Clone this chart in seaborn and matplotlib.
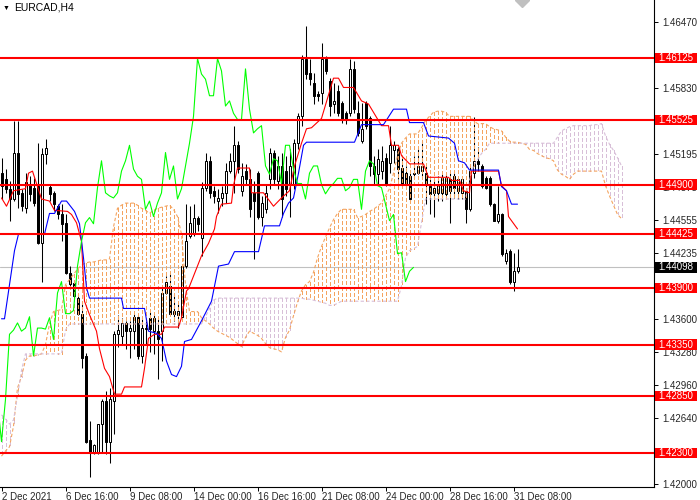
import numpy as np
import pandas as pd
import seaborn as sns
import matplotlib.pyplot as plt
import matplotlib.transforms as mtransforms
from matplotlib.patches import Rectangle

sns.set_style("white")
plt.rcParams['font.family'] = ['Liberation Sans', 'DejaVu Sans']

# EURCAD H4 candles, 2 Dec - 31 Dec 2021
opens = [1.4501, 1.4495, 1.4486, 1.4476, 1.4521, 1.4482, 1.4467, 1.4491, 1.4487, 1.4489,
         1.4433, 1.4520, 1.4488, 1.4482, 1.4469, 1.4461, 1.4453, 1.4404, 1.4395, 1.4380,
         1.4365, 1.4324, 1.4243, 1.4230, 1.4230, 1.4258, 1.4280, 1.4241, 1.4280, 1.4345,
         1.4343, 1.4356, 1.4348, 1.4348, 1.4362, 1.4324, 1.4350, 1.4361, 1.4348, 1.4348,
         1.4348, 1.4385, 1.4392, 1.4368, 1.4364, 1.4362, 1.4411, 1.4440, 1.4443, 1.4458,
         1.4438, 1.4487, 1.4513, 1.4484, 1.4474, 1.4477, 1.4482, 1.4503, 1.4513, 1.4528,
         1.4484, 1.4503, 1.4495, 1.4482, 1.4501, 1.4459, 1.4466, 1.4495, 1.4521, 1.4493,
         1.4508, 1.4503, 1.4491, 1.4491, 1.4530, 1.4556, 1.4612, 1.4598, 1.4588, 1.4578,
         1.4579, 1.4612, 1.4590, 1.4568, 1.4581, 1.4569, 1.4559, 1.4559, 1.4602, 1.4559,
         1.4532, 1.4569, 1.4554, 1.4508, 1.4500, 1.4503, 1.4516, 1.4511, 1.4523, 1.4524,
         1.4506, 1.4501, 1.4498, 1.4500, 1.4501, 1.4503, 1.4501, 1.4489, 1.4482, 1.4482,
         1.4482, 1.4481, 1.4495, 1.4498, 1.4484, 1.4482, 1.4484, 1.4466, 1.4501, 1.4513,
         1.4508, 1.4496, 1.4496, 1.4471, 1.4455, 1.4461, 1.4416, 1.4426, 1.4396, 1.4406]
highs = [1.4516, 1.4505, 1.4493, 1.4552, 1.4552, 1.4486, 1.4501, 1.4498, 1.4496, 1.4530,
         1.4525, 1.4534, 1.4491, 1.4484, 1.4471, 1.4471, 1.4461, 1.4411, 1.4398, 1.4384,
         1.4377, 1.4327, 1.4261, 1.4239, 1.4258, 1.4282, 1.4290, 1.4293, 1.4348, 1.4364,
         1.4361, 1.4358, 1.4358, 1.4365, 1.4364, 1.4362, 1.4361, 1.4367, 1.4365, 1.4361,
         1.4390, 1.4401, 1.4403, 1.4384, 1.4374, 1.4413, 1.4471, 1.4469, 1.4471, 1.4460,
         1.4492, 1.4521, 1.4518, 1.4489, 1.4486, 1.4489, 1.4511, 1.4521, 1.4547, 1.4532,
         1.4511, 1.4510, 1.4505, 1.4493, 1.4503, 1.4479, 1.4491, 1.4525, 1.4523, 1.4518,
         1.4521, 1.4518, 1.4524, 1.4534, 1.4559, 1.4615, 1.4644, 1.4612, 1.4598, 1.4581,
         1.4627, 1.4614, 1.4593, 1.4588, 1.4586, 1.4571, 1.4561, 1.4612, 1.4610, 1.4571,
         1.4569, 1.4571, 1.4556, 1.4518, 1.4524, 1.4527, 1.4521, 1.4547, 1.4532, 1.4526,
         1.4518, 1.4508, 1.4501, 1.4518, 1.4524, 1.4532, 1.4508, 1.4495, 1.4495, 1.4498,
         1.4500, 1.4500, 1.4501, 1.4503, 1.4496, 1.4498, 1.4487, 1.4510, 1.4555, 1.4526,
         1.4510, 1.4498, 1.4498, 1.4472, 1.4489, 1.4462, 1.4428, 1.4428, 1.4424, 1.4428]
lows = [1.4476, 1.4482, 1.4455, 1.4474, 1.4467, 1.4464, 1.4462, 1.4474, 1.4469, 1.4432,
        1.4396, 1.4510, 1.4474, 1.4464, 1.4457, 1.4435, 1.4403, 1.4390, 1.4379, 1.4364,
        1.4312, 1.4240, 1.4207, 1.4229, 1.4229, 1.4231, 1.4229, 1.4220, 1.4248, 1.4333,
        1.4336, 1.4331, 1.4322, 1.4331, 1.4321, 1.4317, 1.4335, 1.4328, 1.4326, 1.4302,
        1.4319, 1.4384, 1.4364, 1.4358, 1.4351, 1.4360, 1.4409, 1.4438, 1.4440, 1.4445,
        1.4421, 1.4484, 1.4477, 1.4472, 1.4462, 1.4469, 1.4472, 1.4501, 1.4482, 1.4501,
        1.4479, 1.4491, 1.4459, 1.4418, 1.4457, 1.4450, 1.4462, 1.4486, 1.4491, 1.4486,
        1.4459, 1.4479, 1.4459, 1.4486, 1.4524, 1.4547, 1.4592, 1.4586, 1.4568, 1.4571,
        1.4568, 1.4597, 1.4556, 1.4559, 1.4556, 1.4550, 1.4549, 1.4556, 1.4559, 1.4537,
        1.4530, 1.4544, 1.4498, 1.4490, 1.4490, 1.4495, 1.4489, 1.4501, 1.4511, 1.4495,
        1.4489, 1.4487, 1.4474, 1.4496, 1.4500, 1.4498, 1.4471, 1.4461, 1.4459, 1.4474,
        1.4474, 1.4476, 1.4453, 1.4477, 1.4476, 1.4476, 1.4453, 1.4464, 1.4496, 1.4503,
        1.4487, 1.4486, 1.4469, 1.4455, 1.4453, 1.4421, 1.4413, 1.4394, 1.4387, 1.4404]
closes = [1.4489, 1.4486, 1.4476, 1.4521, 1.4481, 1.4469, 1.4492, 1.4481, 1.4472, 1.4433,
          1.4520, 1.4525, 1.4481, 1.4471, 1.4461, 1.4452, 1.4404, 1.4394, 1.4382, 1.4365,
          1.4322, 1.4241, 1.4230, 1.4238, 1.4258, 1.4280, 1.4241, 1.4282, 1.4345, 1.4349,
          1.4356, 1.4348, 1.4351, 1.4362, 1.4324, 1.4351, 1.4351, 1.4350, 1.4361, 1.4340,
          1.4385, 1.4396, 1.4365, 1.4365, 1.4368, 1.4411, 1.4435, 1.4453, 1.4458, 1.4452,
          1.4487, 1.4513, 1.4482, 1.4479, 1.4477, 1.4482, 1.4503, 1.4513, 1.4528, 1.4505,
          1.4498, 1.4495, 1.4466, 1.4474, 1.4459, 1.4472, 1.4482, 1.4521, 1.4495, 1.4508,
          1.4476, 1.4486, 1.4508, 1.4530, 1.4556, 1.4612, 1.4597, 1.4592, 1.4576, 1.4576,
          1.4612, 1.4600, 1.4566, 1.4571, 1.4559, 1.4553, 1.4553, 1.4602, 1.4563, 1.4540,
          1.4544, 1.4547, 1.4508, 1.4500, 1.4515, 1.4513, 1.4491, 1.4528, 1.4528, 1.4505,
          1.4491, 1.4491, 1.4476, 1.4501, 1.4508, 1.4508, 1.4490, 1.4481, 1.4487, 1.4491,
          1.4496, 1.4496, 1.4484, 1.4487, 1.4495, 1.4495, 1.4466, 1.4503, 1.4513, 1.4510,
          1.4489, 1.4487, 1.4471, 1.4455, 1.4461, 1.4423, 1.4424, 1.4396, 1.4406, 1.44098]

# Ichimoku: tenkan-sen (red) and kijun-sen (blue) read as turning points
tenkan_bar = [0, 1.25, 3, 6, 6.75, 7.75, 8.75, 10, 12, 13.25, 16.5, 17.5, 18.75, 20, 20.75, 22,
              23.75, 24.5, 25.75, 27, 28.25, 30, 30.75, 35, 35.75, 36.75, 38.25, 40, 40.75, 44.25,
              45, 46.25, 46.75, 50, 51.75, 53.25, 53.75, 55, 57.5, 58, 59, 62, 62.5, 65.5, 68, 70,
              72, 73.25, 75, 76.25, 77.5, 80, 83, 84.25, 85.5, 88, 90, 91.75, 95, 96.75, 97.5,
              99.25, 100, 102, 105.5, 106.75, 111.75, 112.5, 114.5, 115.5, 117, 117.5, 124.25,
              125, 126.25, 126.75, 129]
tenkan_val = [1.4477, 1.4469, 1.4484, 1.4486, 1.4501, 1.4503, 1.4491, 1.4476, 1.4474, 1.4465,
              1.4464, 1.4461, 1.4453, 1.4435, 1.4377, 1.4364, 1.4348, 1.4331, 1.4312, 1.4304,
              1.4287, 1.4287, 1.4294, 1.4294, 1.4312, 1.4341, 1.4345, 1.4345, 1.4352, 1.4352,
              1.4361, 1.4387, 1.4389, 1.4421, 1.4433, 1.4447, 1.4459, 1.4471, 1.4472, 1.4489,
              1.4506, 1.4506, 1.4482, 1.4482, 1.4469, 1.4477, 1.4484, 1.4508, 1.4530, 1.4544,
              1.4545, 1.4554, 1.4593, 1.4593, 1.4584, 1.4584, 1.4571, 1.4568, 1.4547, 1.4547,
              1.4528, 1.4528, 1.4518, 1.4510, 1.4510, 1.4497, 1.4497, 1.4494, 1.4494, 1.4484,
              1.4482, 1.4503, 1.4503, 1.4489, 1.4484, 1.4459, 1.4447]
kijun_bar = [0, 0.75, 3.25, 4.25, 10.75, 12, 13.25, 15, 16.25, 18.25, 19.5, 20.5, 21.25, 22, 30,
             30.5, 35.75, 36.75, 38.75, 40, 41.25, 42.5, 43.75, 45, 45.75, 47.5, 50, 52.5, 54.25,
             56.75, 58.25, 64.25, 65.75, 69.5, 70.5, 71.75, 73, 74.25, 75.5, 76.25, 88.25, 90,
             95.5, 98, 101.25, 102, 105.5, 106.75, 111.75, 113.25, 114.25, 115.75, 117, 124.25,
             125, 126.25, 127.5, 129]
kijun_val = [1.4360, 1.4360, 1.4426, 1.4442, 1.4442, 1.4462, 1.4462, 1.4474, 1.4474, 1.4464,
             1.4452, 1.4419, 1.4390, 1.4380, 1.4380, 1.4370, 1.4370, 1.4348, 1.4346, 1.4341,
             1.4319, 1.4306, 1.4304, 1.4314, 1.4338, 1.4340, 1.4358, 1.4377, 1.4411, 1.4413,
             1.4425, 1.4425, 1.4450, 1.4450, 1.4462, 1.4472, 1.4477, 1.4501, 1.4528, 1.4531,
             1.4531, 1.4548, 1.4548, 1.4563, 1.4563, 1.4550, 1.4550, 1.4537, 1.4535, 1.4530,
             1.4513, 1.4511, 1.4504, 1.4504, 1.4488, 1.4484, 1.4471, 1.4471]

# Senkou span A / B, one value per bar (cloud runs 26 bars past the last candle)
span_a = [1.4227, 1.4232, 1.4236, 1.4256, 1.4293, 1.4304, 1.4320, 1.4324, 1.4324, 1.4325,
          1.4326, 1.4335, 1.4355, 1.4367, 1.4368, 1.4369, 1.4393, 1.4398, 1.4403, 1.4408,
          1.4412, 1.4414, 1.4415, 1.4415, 1.4416, 1.4417, 1.4417, 1.4418, 1.4449, 1.4467,
          1.4470, 1.4472, 1.4472, 1.4472, 1.4470, 1.4467, 1.4465, 1.4462, 1.4465, 1.4467,
          1.4468, 1.4469, 1.4470, 1.4466, 1.4459, 1.4442, 1.4393, 1.4367, 1.4367, 1.4367,
          1.4361, 1.4358, 1.4355, 1.4351, 1.4348, 1.4346, 1.4344, 1.4342, 1.4339, 1.4336,
          1.4333, 1.4342, 1.4348, 1.4346, 1.4344, 1.4341, 1.4336, 1.4332, 1.4331, 1.4330,
          1.4328, 1.4342, 1.4349, 1.4363, 1.4376, 1.4387, 1.4393, 1.4396, 1.4405, 1.4419,
          1.4430, 1.4439, 1.4448, 1.4456, 1.4462, 1.4466, 1.4466, 1.4466, 1.4466, 1.4458,
          1.4459, 1.4461, 1.4464, 1.4466, 1.4469, 1.4472, 1.4479, 1.4486, 1.4501, 1.4518,
          1.4530, 1.4535, 1.4539, 1.4539, 1.4539, 1.4545, 1.4552, 1.4556, 1.4560, 1.4561,
          1.4561, 1.4560, 1.4556, 1.4556, 1.4556, 1.4556, 1.4556, 1.4556, 1.4552, 1.4549,
          1.4549, 1.4549, 1.4546, 1.4544, 1.4543, 1.4542, 1.4536, 1.4532, 1.4531, 1.4531,
          1.4530, 1.4529, 1.4524, 1.4523, 1.4520, 1.4518, 1.4516, 1.4515, 1.4513, 1.4504,
          1.4500, 1.4498, 1.4495, 1.4500, 1.4503, 1.4503, 1.4503, 1.4503, 1.4503, 1.4503,
          1.4503, 1.4489, 1.4479, 1.4470, 1.4461, 1.4457]
span_b = ([1.4267, 1.4263, 1.4258, 1.4262, 1.4285, 1.4310] + [1.4326] * 10 + [1.4349]
          + [1.4355] * 34 + [1.4362, 1.4370, 1.4378] + [1.4380] * 22
          + [1.4379, 1.4379, 1.4378, 1.4377, 1.4376, 1.4375, 1.4373, 1.4373, 1.4375]
          + [1.4377] * 15 + [1.4392, 1.4419, 1.4426, 1.4428, 1.4430, 1.4453] + [1.4476] * 11
          + [1.4494, 1.4508, 1.4514, 1.4520, 1.4524] + [1.4530] * 17
          + [1.4536, 1.4542, 1.4544, 1.4546] + [1.4547] * 5 + [1.4548, 1.4548, 1.4549]
          + [1.4537, 1.4529, 1.4523, 1.4516, 1.4508])

levels = [1.46125, 1.45525, 1.44900, 1.44425, 1.43900, 1.43350, 1.42850, 1.42300]
last_price = 1.44098

date_ticks = [0, 16, 32, 48, 64, 80, 96, 112, 128]
date_labels = ["2 Dec 2021", "6 Dec 16:00", "9 Dec 08:00", "14 Dec 00:00", "16 Dec 16:00",
               "21 Dec 08:00", "24 Dec 00:00", "28 Dec 16:00", "31 Dec 08:00"]
price_ticks = [1.46470, 1.45830, 1.45195, 1.44875, 1.44555, 1.44235,
               1.43600, 1.43280, 1.42960, 1.42640, 1.42000]

candles = pd.DataFrame({'open': opens, 'high': highs, 'low': lows, 'close': closes})
candles['bar'] = np.arange(len(candles))

fig = plt.figure(figsize=(7, 5), dpi=100)
ax = fig.add_axes([0, 13 / 500, 654 / 700, 487 / 500])
y_lo, y_hi = 1.41971, 1.46687

# current bid line
ax.axhline(last_price, color='#c0c0c0', linewidth=0.8, zorder=1)

# candlesticks
ax.vlines(candles['bar'], candles['low'], candles['high'], color='black', linewidth=0.75, zorder=2)
body_low = candles[['open', 'close']].min(axis=1)
body_h = (candles['close'] - candles['open']).abs().clip(lower=0.00006)
up = candles['close'] >= candles['open']
ax.bar(candles['bar'][up], body_h[up], bottom=body_low[up], width=0.5, color='white',
       edgecolor='black', linewidth=0.72, zorder=2.2)
ax.bar(candles['bar'][~up], body_h[~up], bottom=body_low[~up], width=0.5, color='black',
       edgecolor='black', linewidth=0.72, zorder=2.2)

# kumo cloud as dotted histogram, one dashed stroke per bar
cloud_x = np.arange(len(span_a))
a = np.array(span_a)
b = np.array(span_b)
bull = a >= b


def hatch(xs, lo, hi, color):
    n = len(xs)
    px = np.column_stack([xs, xs, np.full(n, np.nan)]).ravel()
    py = np.column_stack([hi, lo, np.full(n, np.nan)]).ravel()
    ax.plot(px, py, color=color, linewidth=0.75, linestyle=(0, (3, 2)), zorder=3,
            dash_capstyle='butt', antialiased=False)


hatch(cloud_x[bull], b[bull], a[bull], '#F4A460')
hatch(cloud_x[~bull], a[~bull], b[~bull], '#D8BFD8')
ax.plot(cloud_x, a, color='#F4A460', linewidth=0.8, linestyle=(0, (3, 2)), zorder=3)
ax.plot(cloud_x, b, color='#D8BFD8', linewidth=0.8, linestyle=(0, (3, 2)), zorder=3)

# tenkan, kijun, chikou (close shifted back 26 bars)
sns.lineplot(x=tenkan_bar, y=tenkan_val, color='red', linewidth=0.8, ax=ax, zorder=4)
sns.lineplot(x=kijun_bar, y=kijun_val, color='blue', linewidth=0.8, ax=ax, zorder=4)
sns.lineplot(x=candles['bar'] - 26, y=candles['close'], color='#00ff00', linewidth=0.8, ax=ax, zorder=4)

# support / resistance levels
for lv in levels:
    ax.axhline(lv, color='red', linewidth=1.5, zorder=5)

# half-pixel shift so each bar sits on a pixel centre
ax.set_xlim(-0.375, 163.125)
ax.set_ylim(y_lo, y_hi)
ax.set_xlabel('')
ax.set_ylabel('')
for s in ['left', 'top']:
    ax.spines[s].set_visible(False)
for s in ['right', 'bottom']:
    ax.spines[s].set_visible(True)
    ax.spines[s].set_color('black')
    ax.spines[s].set_linewidth(0.8)

ax.yaxis.tick_right()
ax.set_yticks(price_ticks)
ax.set_yticklabels([f'{v:.5f}' for v in price_ticks])
ax.set_xticks(date_ticks)
ax.set_xticklabels(date_labels, ha='left')
ax.tick_params(axis='y', right=True, left=False, labelright=True, labelleft=False,
               direction='out', length=3, width=0.7, color='black', labelsize=7, pad=3)
ax.tick_params(axis='x', bottom=True, direction='out', length=3, width=0.7, color='black',
               labelsize=7, pad=0.5)

# price labels on the right
trans = mtransforms.blended_transform_factory(fig.transFigure, ax.transData)
box_h = 10.5 / 487 * (y_hi - y_lo)
for lv in levels:
    ax.add_patch(Rectangle((655 / 700, lv - box_h / 2), 42 / 700, box_h, transform=trans,
                           facecolor='red', edgecolor='none', clip_on=False, zorder=10))
    ax.text(658 / 700, lv, f'{lv:.5f}', transform=trans, color='white', fontsize=7,
            va='center', ha='left', zorder=11, clip_on=False)
ax.add_patch(Rectangle((655 / 700, last_price - box_h / 2), 42 / 700, box_h, transform=trans,
                       facecolor='black', edgecolor='none', clip_on=False, zorder=10))
ax.text(658 / 700, last_price, f'{last_price:.5f}', transform=trans, color='white', fontsize=7,
        va='center', ha='left', zorder=11, clip_on=False)

# chart shift marker and title
ax.plot([130], [y_hi], marker='D', color='#c0c0c0', markersize=7, clip_on=False, zorder=6)
fig.text(3 / 700, 1 - 8 / 500, '\u25bc', fontsize=5, va='center', ha='left', color='black')
fig.text(14 / 700, 1 - 8 / 500, 'EURCAD,H4', fontsize=7.5, va='center', ha='left', color='black')

plt.savefig('out.png', dpi=100)
